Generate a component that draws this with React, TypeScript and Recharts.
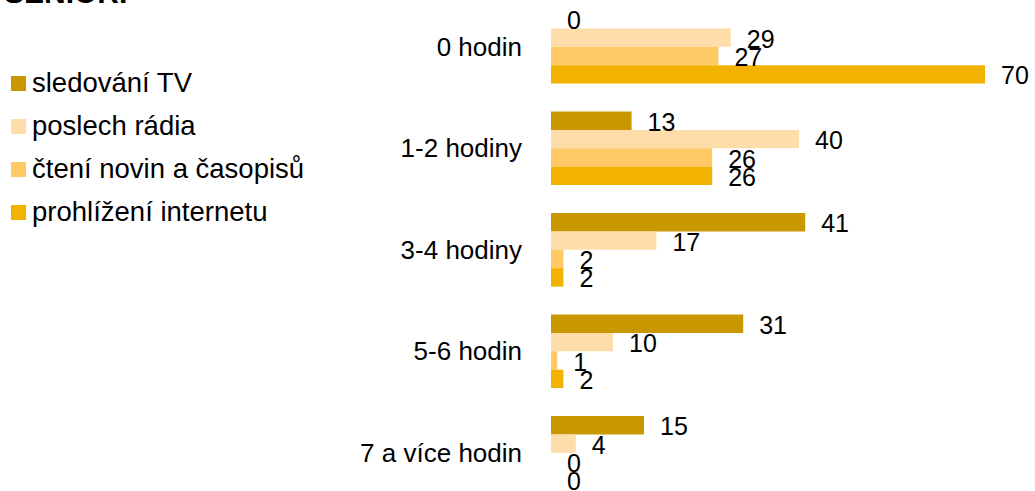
import { BarChart, Bar, XAxis, YAxis, Legend, LabelList } from 'recharts';

const categories = ['0 hodin', '1-2 hodiny', '3-4 hodiny', '5-6 hodin', '7 a více hodin'];
const tv = [0, 13, 41, 31, 15];
const radio = [29, 40, 17, 10, 4];
const noviny = [27, 26, 2, 1, 0];
const internet = [70, 26, 2, 2, 0];

const SERIES = [
  { key: 'tv', name: 'sledování TV', color: '#C99700', values: tv },
  { key: 'radio', name: 'poslech rádia', color: '#FFDDAA', values: radio },
  { key: 'noviny', name: 'čtení novin a časopisů', color: '#FFC965', values: noviny },
  { key: 'internet', name: 'prohlížení internetu', color: '#F1B300', values: internet },
];

const data = categories.map((c, i) => {
  const row: Record<string, string | number> = { name: c };
  SERIES.forEach(s => { row[s.key] = s.values[i]; });
  return row;
});

const FONT = '"Liberation Sans", Arial, sans-serif';

function renderLegend(props: any) {
  const { payload } = props;
  const items = SERIES.map(s => payload.find((p: any) => p.value === s.name)).filter(Boolean);
  return (
    <div style={{ fontFamily: FONT, fontSize: 27.5, color: '#000' }}>
      {items.map((entry: any) => (
        <div key={entry.value} style={{ display: 'flex', alignItems: 'center', height: 43 }}>
          <span style={{ width: 15, height: 15, background: entry.color, marginRight: 6, flex: 'none' }} />
          <span style={{ whiteSpace: 'nowrap' }}>{entry.value}</span>
        </div>
      ))}
    </div>
  );
}

// value label to the right of the bar end
function ValueLabel(props: any) {
  const { x, y, width, height, value } = props;
  if (value == null) return null;
  const w = Number(width) < 0.5 ? 0 : Number(width);
  return (
    <text
      x={Number(x) + w + 16}
      y={Number(y) + Number(height) / 2 + 10}
      fontSize={25}
      fontFamily={FONT}
      fill="#000"
      textAnchor="start"
    >
      {value}
    </text>
  );
}

export default function App() {
  return (
    <div style={{ position: 'absolute', left: 0, top: 0, width: 1035, height: 491, overflow: 'hidden', background: '#fff' }}>
      <div style={{ position: 'absolute', left: 4, top: -22, fontFamily: FONT, fontWeight: 'bold', fontSize: 30, color: '#000', lineHeight: '30px' }}>
        SENIOŘI
      </div>
      <div style={{ position: 'absolute', left: 0, top: -4 }}>
        <BarChart
          width={1035}
          height={507.5}
          data={data}
          layout="vertical"
          margin={{ top: 0, right: 50, bottom: 0, left: 0 }}
          barGap={0}
          barSize={18.4}
        >
          <XAxis type="number" domain={[0, 70]} hide />
          <YAxis
            type="category"
            dataKey="name"
            width={551}
            axisLine={false}
            tickLine={false}
            tickSize={0}
            tickMargin={29}
            tick={{ fontSize: 26, fill: '#000', fontFamily: FONT }}
          />
          <Legend
            layout="vertical"
            align="center"
            verticalAlign="middle"
            content={renderLegend}
            wrapperStyle={{ left: 11, top: 65.5, width: 330 }}
          />
          {SERIES.map(s => (
            <Bar key={s.key} dataKey={s.key} name={s.name} fill={s.color} minPointSize={0.01} isAnimationActive={false}>
              <LabelList dataKey={s.key} content={ValueLabel} />
            </Bar>
          ))}
        </BarChart>
      </div>
    </div>
  );
}
